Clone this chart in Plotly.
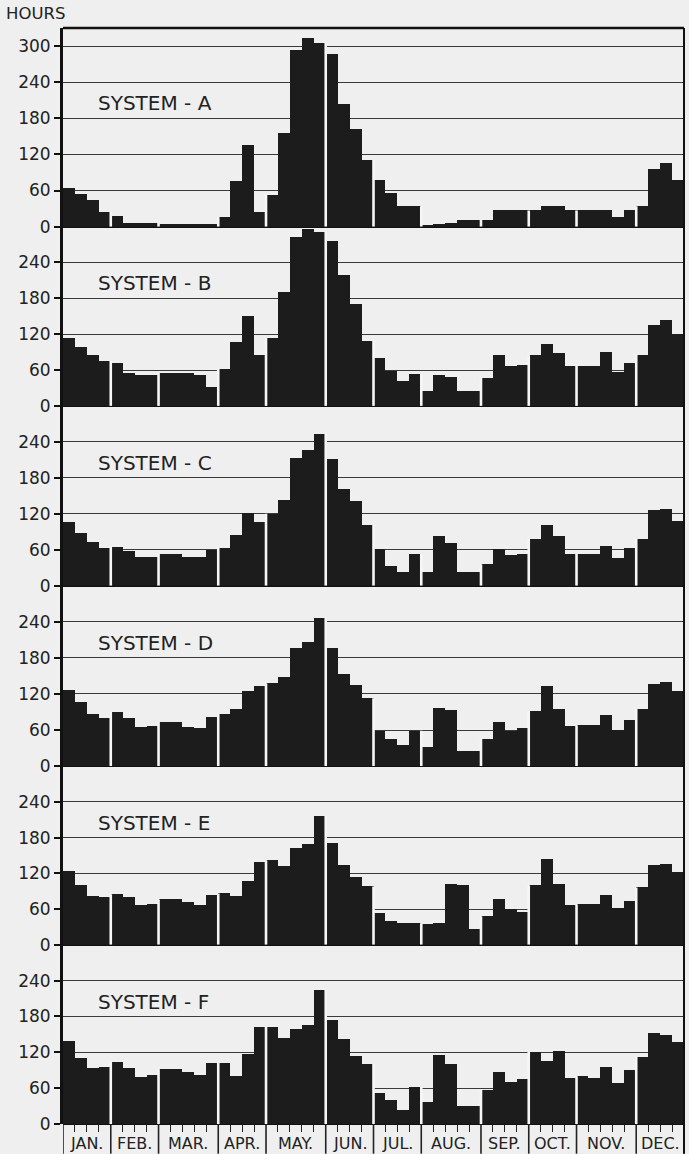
import plotly.graph_objects as go

# ---------------- data ----------------
month_labels = ["JAN.", "FEB.", "MAR.", "APR.", "MAY.", "JUN.",
                "JUL.", "AUG.", "SEP.", "OCT.", "NOV.", "DEC."]
weeks_per_month = [4, 4, 5, 4, 5, 4, 4, 5, 4, 4, 5, 4]

system_names = ["SYSTEM - A", "SYSTEM - B", "SYSTEM - C",
                "SYSTEM - D", "SYSTEM - E", "SYSTEM - F"]

system_a = [65, 54, 44, 25,  17, 6, 6, 6,  5, 5, 5, 5, 5,  16, 76, 135, 25,
            53, 155, 294, 314, 305,  286, 204, 162, 111,  77, 56, 34, 34,
            3, 4, 6, 11, 11,  11, 27, 27, 27,  27, 35, 35, 27,
            27, 27, 27, 16, 27,  34, 96, 105, 77]
system_b = [114, 100, 85, 76,  72, 55, 52, 52,  55, 55, 55, 52, 33,  62, 108, 151, 86,
            114, 191, 284, 297, 292,  276, 219, 171, 110,  80, 59, 42, 54,
            25, 53, 49, 25, 25,  48, 85, 67, 69,  85, 104, 89, 68,
            68, 68, 91, 58, 73,  86, 136, 144, 121]
system_c = [107, 89, 73, 63,  65, 59, 48, 48,  54, 54, 49, 49, 60,  64, 85, 121, 106,
            120, 144, 213, 226, 254,  212, 162, 141, 102,  62, 34, 24, 53,
            24, 83, 72, 23, 23,  36, 62, 51, 53,  78, 102, 84, 53,
            53, 53, 67, 46, 63,  78, 126, 128, 108]
system_d = [127, 107, 87, 80,  90, 81, 65, 67,  74, 74, 66, 64, 82,  87, 95, 125, 134,
            138, 148, 197, 206, 247,  197, 154, 136, 113,  58, 45, 36, 59,
            32, 97, 94, 25, 25,  46, 74, 59, 64,  92, 134, 96, 67,
            68, 68, 85, 60, 77,  95, 137, 141, 125]
system_e = [123, 100, 82, 80,  85, 80, 66, 69,  76, 76, 71, 67, 84,  86, 82, 107, 138,
            142, 132, 163, 169, 216,  171, 133, 113, 98,  53, 40, 36, 36,
            34, 36, 102, 100, 27,  48, 77, 60, 55,  100, 143, 102, 67,
            68, 68, 84, 61, 74,  96, 133, 136, 122]
system_f = [140, 111, 94, 96,  104, 94, 79, 83,  92, 92, 87, 82, 102,  103, 80, 117, 163,
            163, 145, 160, 166, 225,  174, 143, 114, 101,  52, 40, 24, 62,
            38, 116, 101, 31, 31,  58, 88, 70, 76,  121, 106, 122, 77,
            80, 77, 96, 69, 91,  113, 152, 149, 137]

series = [system_a, system_b, system_c, system_d, system_e, system_f]
y_max = [330, 300, 300, 300, 300, 300]
tick_sets = [[0, 60, 120, 180, 240, 300]] + [[0, 60, 120, 180, 240]] * 5

# ---------------- layout geometry ----------------
W, H = 689, 1154
bounds_px = [28, 226.7, 406, 586, 766.3, 945, 1124.3]
m_top, m_bot = bounds_px[0], H - bounds_px[-1]
m_left, m_right = 63, 5
plot_h = bounds_px[-1] - bounds_px[0]
plot_w = W - m_left - m_right

BG = "#efefef"
INK = "#1c1c1c"
FONT = "DejaVu Sans"

n_weeks = sum(weeks_per_month)
week_x = [i + 0.5 for i in range(n_weeks)]
month_edges = [0]
for w in weeks_per_month:
    month_edges.append(month_edges[-1] + w)

fig = go.Figure()
shapes = []
annotations = []

for i, vals in enumerate(series):
    ax = "y" if i == 0 else f"y{i + 1}"
    fig.add_trace(go.Bar(
        x=week_x, y=vals, width=1.0, xaxis="x", yaxis=ax,
        marker=dict(color=INK, line=dict(width=0)),
        showlegend=False, hoverinfo="x+y",
    ))
    d0 = (bounds_px[-1] - bounds_px[i + 1]) / plot_h
    d1 = (bounds_px[-1] - bounds_px[i]) / plot_h
    key = "yaxis" if i == 0 else f"yaxis{i + 1}"
    fig.layout[key] = dict(
        domain=[max(0, d0), min(1, d1)], range=[0, y_max[i]], anchor="x",
        tickvals=tick_sets[i], ticktext=[str(t) for t in tick_sets[i]],
        showgrid=True, gridcolor="#3a3a3a", gridwidth=1.2,
        zeroline=True, zerolinecolor="#111", zerolinewidth=2.2,
        showline=True, linecolor="#111", linewidth=3,
        ticks="outside", ticklen=6, tickwidth=1.5, tickcolor="#111",
        tickfont=dict(family=FONT, size=17, color="#222"),
        fixedrange=True,
    )
    # white month separators through the bars
    for k in range(1, len(month_edges) - 1):
        e = month_edges[k]
        h = max(vals[e - 1], vals[e])
        shapes.append(dict(type="line", xref="x", yref=ax,
                           x0=e, x1=e, y0=0, y1=h,
                           line=dict(color="#f6f6f6", width=2.6), layer="above"))
    # panel title
    annotations.append(dict(
        text=system_names[i], xref="paper", yref=ax,
        x=(96 - m_left) / plot_w, y=205, xanchor="left", yanchor="middle",
        showarrow=False, font=dict(family=FONT, size=20, color="#222"),
    ))

# week ticks and month separators under the bottom panel
internal_week_ticks = [w for w in range(1, n_weeks) if w not in month_edges]
fig.update_layout(xaxis=dict(
    range=[0, n_weeks], anchor="y6", domain=[0, 1],
    tickvals=internal_week_ticks, showticklabels=False,
    ticks="outside", ticklen=7, tickwidth=1.3, tickcolor="#222",
    showgrid=False, zeroline=False, showline=False, fixedrange=True,
))
below = -m_bot / plot_h
for e in month_edges:
    shapes.append(dict(type="line", xref="x", yref="paper",
                       x0=e, x1=e, y0=0, y1=below,
                       line=dict(color="#222", width=1.6)))
for k, lab in enumerate(month_labels):
    cx = (month_edges[k] + month_edges[k + 1]) / 2
    annotations.append(dict(
        text=lab, xref="x", yref="paper", x=cx,
        y=-(1144 - bounds_px[-1]) / plot_h, xanchor="center", yanchor="middle",
        showarrow=False, font=dict(family=FONT, size=16, color="#222"),
    ))

# frame: top border and right border
shapes.append(dict(type="line", xref="paper", yref="paper", x0=0, x1=1, y0=1, y1=1,
                   line=dict(color="#111", width=2.5)))
shapes.append(dict(type="line", xref="paper", yref="paper", x0=1, x1=1, y0=below, y1=1,
                   line=dict(color="#111", width=2)))

annotations.append(dict(
    text="HOURS", xref="paper", yref="paper",
    x=(4 - m_left) / plot_w, y=1 + (m_top - 13) / plot_h,
    xanchor="left", yanchor="middle", showarrow=False,
    font=dict(family=FONT, size=16.5, color="#222"),
))

fig.update_layout(
    width=W, height=H,
    margin=dict(l=m_left, r=m_right, t=m_top, b=m_bot, pad=0),
    paper_bgcolor=BG, plot_bgcolor=BG,
    bargap=0, barmode="overlay",
    shapes=shapes, annotations=annotations,
    showlegend=False,
)

fig.write_html(
    "out.html",
    config={"displayModeBar": False},
    post_script="document.body.style.margin='0';document.body.style.background='#efefef';",
)
